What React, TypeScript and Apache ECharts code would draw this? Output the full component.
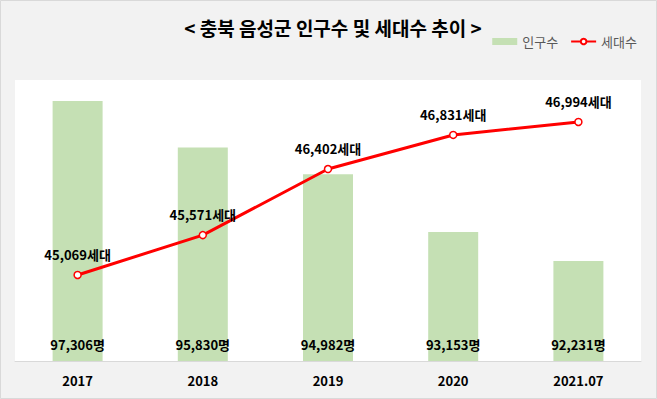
import React, { useEffect, useRef } from "react";
import * as echarts from "echarts";

const categories = ["2017", "2018", "2019", "2020", "2021.07"];
const population = [97306, 95830, 94982, 93153, 92231];
const households = [45069, 45571, 46402, 46831, 46994];

const FONT = "'Noto Sans CJK KR', 'Noto Sans', sans-serif";
const fmt = (v: number) => v.toLocaleString("en-US");

export default function App() {
  const ref = useRef<HTMLDivElement>(null);
  useEffect(() => {
    if (!ref.current) return;
    const chart = echarts.init(ref.current, null, { renderer: "svg" });
    chart.setOption({
      animation: false,
      backgroundColor: "#f2f2f2",
      textStyle: { fontFamily: FONT },
      title: {
        text: "< 충북 음성군 인구수 및 세대수 추이 >",
        left: 328,
        textAlign: "center",
        top: 13,
        textStyle: { fontFamily: FONT, fontSize: 19, fontWeight: "bold", color: "#000" },
      },
      graphic: [
        {
          type: "rect",
          shape: { x: 0.5, y: 0.5, width: 656, height: 398 },
          style: { fill: "none", stroke: "#d9d9d9", lineWidth: 1 },
          silent: true,
        },
      ],
      legend: {
        right: 15,
        top: 30,
        itemWidth: 25,
        itemHeight: 7,
        itemGap: 12,
        textStyle: { fontFamily: FONT, fontSize: 13, color: "#595959" },
        data: [
          { name: "인구수", icon: "rect" },
          { name: "세대수" },
        ],
      },
      grid: {
        left: 15,
        right: 16,
        top: 80,
        bottom: 38,
        show: true,
        backgroundColor: "#ffffff",
        borderWidth: 0,
      },
      xAxis: {
        type: "category",
        data: categories,
        axisTick: { show: false },
        axisLine: { lineStyle: { color: "#d9d9d9", width: 1 } },
        axisLabel: {
          fontFamily: FONT,
          fontSize: 13,
          fontWeight: "bold",
          color: "#000",
          margin: 13,
        },
      },
      yAxis: [
        { type: "value", min: 89059, max: 97972, show: false, splitLine: { show: false } },
        { type: "value", min: 43987, max: 47522, show: false, splitLine: { show: false } },
      ],
      series: [
        {
          name: "인구수",
          type: "bar",
          data: population,
          barWidth: 50,
          yAxisIndex: 0,
          itemStyle: { color: "#c5e0b4" },
          label: {
            show: true,
            position: "insideBottom",
            distance: 10,
            formatter: (p: any) => fmt(p.value) + "명",
            fontFamily: FONT,
            fontSize: 13,
            fontWeight: "bold",
            color: "#000",
          },
        },
        {
          name: "세대수",
          type: "line",
          data: households,
          yAxisIndex: 1,
          symbol: "circle",
          symbolSize: 7,
          lineStyle: { color: "#ff0000", width: 3 },
          itemStyle: { color: "#ffffff", borderColor: "#ff0000", borderWidth: 1.5 },
          label: {
            show: true,
            position: "top",
            distance: 10,
            formatter: (p: any) => fmt(p.value) + "세대",
            fontFamily: FONT,
            fontSize: 13,
            fontWeight: "bold",
            color: "#000",
          },
        },
      ],
    });
    return () => chart.dispose();
  }, []);
  return (
    <div
      ref={ref}
      style={{ position: "fixed", left: 0, top: 0, width: 657, height: 399 }}
    />
  );
}
